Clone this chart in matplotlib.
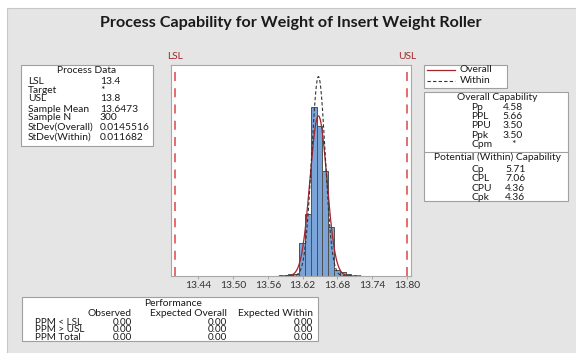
import numpy as np
from matplotlib import pyplot as plt
from matplotlib.patches import Rectangle
from matplotlib.lines import Line2D

# data
lsl, usl = 13.4, 13.8
sample_mean = 13.6473
sample_n = 300
sd_overall = 0.0145516
sd_within = 0.011682
bin_width = 0.01
bin_left = [13.594, 13.604, 13.614, 13.624, 13.634, 13.644, 13.654, 13.664, 13.674, 13.684, 13.694]
counts = [1, 1, 17, 32, 87, 77, 54, 25, 3, 2, 1]
x_ticks = [13.44, 13.50, 13.56, 13.62, 13.68, 13.74, 13.80]

process_labels = ['LSL', 'Target', 'USL', 'Sample Mean', 'Sample N', 'StDev(Overall)', 'StDev(Within)']
process_values = ['13.4', '*', '13.8', '13.6473', '300', '0.0145516', '0.011682']
overall_labels = ['Pp', 'PPL', 'PPU', 'Ppk', 'Cpm']
overall_values = ['4.58', '5.66', '3.50', '3.50', '*']
within_labels = ['Cp', 'CPL', 'CPU', 'Cpk']
within_values = ['5.71', '7.06', '4.36', '4.36']
perf_rows = ['PPM < LSL', 'PPM > USL', 'PPM Total']
perf_cols = ['Observed', 'Expected Overall', 'Expected Within']
perf_values = [['0.00', '0.00', '0.00'], ['0.00', '0.00', '0.00'], ['0.00', '0.00', '0.00']]

W, H = 576, 353
FS = 7.4
plt.rcParams['font.family'] = ['Lato', 'DejaVu Sans']
fig = plt.figure(figsize=(W / 100, H / 100), dpi=100)
fig.patch.set_facecolor('white')


def fx(x):
    return x / W


def fy(y):
    return 1 - y / H


def txt(x, y, s, size=FS, ha='left', **kw):
    fig.text(fx(x), fy(y), s, fontsize=size, ha=ha, va='center', color='#1a1a1a', **kw)


def box(x0, y0, x1, y1, face='white', edge='#a0a0a0', lw=0.8):
    fig.add_artist(Rectangle((fx(x0), fy(y1)), fx(x1) - fx(x0), fy(y0) - fy(y1),
                             transform=fig.transFigure, facecolor=face, edgecolor=edge,
                             linewidth=lw, zorder=0))


# gray background panel
box(7, 8, W + 2, H + 2, face='#e5e5e5', edge='#c8c8c8', lw=0.8)

txt(291, 23, 'Process Capability for Weight of Insert Weight Roller', size=11.6,
    ha='center', fontweight='bold')

# histogram
ax = fig.add_axes([fx(171), fy(276), fx(411) - fx(171), fy(65) - fy(276)])
ax.bar(bin_left, counts, width=bin_width, align='edge', color='#7ba4d8',
       edgecolor='#505050', linewidth=0.7, zorder=2)
xs = np.linspace(13.58, 13.72, 400)
scale = sample_n * bin_width
pdf_o = scale * np.exp(-0.5 * ((xs - sample_mean) / sd_overall) ** 2) / (sd_overall * np.sqrt(2 * np.pi))
pdf_w = scale * np.exp(-0.5 * ((xs - sample_mean) / sd_within) ** 2) / (sd_within * np.sqrt(2 * np.pi))
ax.plot(xs, pdf_o, color='#a3262c', lw=0.9, zorder=3)
ax.plot(xs, pdf_w, color='#333333', lw=0.8, ls=(0, (3, 2)), zorder=3)
for v in (lsl, usl):
    ax.axvline(v, color='#e06262', lw=1.3, ls=(0, (5, 4)), zorder=1)
ax.set_xlim(13.3931, 13.8069)
ax.set_ylim(0, 108.4)
ax.set_yticks([])
ax.set_xticks(x_ticks)
ax.set_xticklabels([f'{t:.2f}' for t in x_ticks], fontsize=7.4, color='#333333')
ax.tick_params(axis='x', length=2, width=0.6, color='#999999', pad=1.5)
for s in ax.spines.values():
    s.set_color('#a8a8a8')
    s.set_linewidth(0.8)
ax.text(lsl, 1.04, 'LSL', transform=ax.get_xaxis_transform(), ha='center', va='center',
        fontsize=7.4, color='#a3262c')
ax.text(usl, 1.04, 'USL', transform=ax.get_xaxis_transform(), ha='center', va='center',
        fontsize=7.4, color='#a3262c')

# process data box
box(21, 65, 153, 146)
txt(87, 70.7, 'Process Data', ha='center')
proc_y = [82, 90.5, 99, 110, 118, 127, 137]
for lab, val, y in zip(process_labels, process_values, proc_y):
    txt(28, y, lab)
    txt(100, y, val)

# legend box
box(424, 65, 507, 88)
fig.add_artist(Line2D([fx(427), fx(455)], [fy(70), fy(70)], transform=fig.transFigure,
                      color='#a3262c', lw=0.9))
fig.add_artist(Line2D([fx(427), fx(455)], [fy(80.5), fy(80.5)], transform=fig.transFigure,
                      color='#333333', lw=0.8, ls=(0, (3, 2))))
txt(460, 70, 'Overall')
txt(460, 80.5, 'Within')

# capability box
box(424, 92, 568, 201)
fig.add_artist(Line2D([fx(424), fx(568)], [fy(152.3), fy(152.3)], transform=fig.transFigure,
                      color='#a0a0a0', lw=0.8))
txt(497, 97.7, 'Overall Capability', ha='center')
for lab, val, y in zip(overall_labels, overall_values, [107.3, 116.7, 125.5, 135, 144.5]):
    txt(471.5, y, lab)
    txt(502.5 if val != '*' else 511, y, val)
txt(497, 157, 'Potential (Within) Capability', ha='center')
for lab, val, y in zip(within_labels, within_values, [169.3, 179, 188.3, 197.5]):
    txt(471.5, y, lab)
    txt(505, y, val)

# performance box
box(22, 297, 318, 341)
txt(173, 304, 'Performance', ha='center')
col_right = [132, 227, 313.5]
for c, xr in zip(perf_cols, col_right):
    txt(xr, 313.5, c, ha='right')
for lab, vals, y in zip(perf_rows, perf_values, [322.5, 329.8, 337]):
    txt(35, y, lab, size=7.1)
    for v, xr in zip(vals, col_right):
        txt(xr, y, v, ha='right', size=7.1)

fig.savefig('out.png', dpi=100)
